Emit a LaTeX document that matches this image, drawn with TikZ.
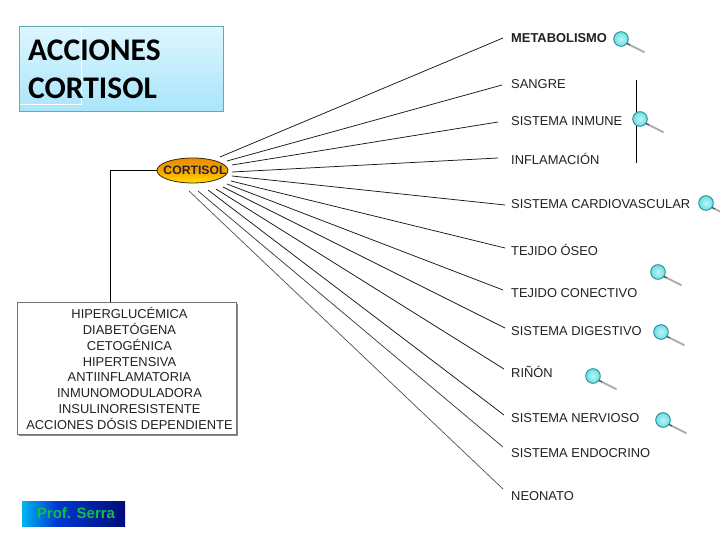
\documentclass[tikz,border=0pt]{standalone}
\usepackage{fontspec}
\setmainfont{Liberation Sans}
\newfontfamily\titlefont{Carlito}
\usetikzlibrary{shapes.geometric,shadings}
\definecolor{txt}{HTML}{222222}
\definecolor{titleedge}{HTML}{62A9BC}
\definecolor{titletop}{HTML}{DDF6FF}
\definecolor{titlebot}{HTML}{A9E5FA}
\definecolor{lensedge}{HTML}{1F8F96}
\definecolor{lensin}{HTML}{B8F6F6}
\definecolor{lensout}{HTML}{6FDDE2}
\definecolor{ovtop}{HTML}{E88E00}
\definecolor{ovmid}{HTML}{F6A200}
\definecolor{ovbot}{HTML}{FFE000}
\definecolor{profa}{HTML}{00B4F0}
\definecolor{profb}{HTML}{0038D0}
\definecolor{profc}{HTML}{000C78}
\definecolor{proftxt}{HTML}{10C040}
\pgfdeclarehorizontalshading{profshade}{100bp}{color(0bp)=(profa);color(25bp)=(profa);color(42bp)=(profb);color(75bp)=(profc);color(100bp)=(profc)}
\tikzset{
  x=1pt,y=-1pt,
  lab/.style={anchor=west,inner sep=0pt,text=txt,font=\fontsize{12.9}{14}\selectfont},
  ray/.style={draw=black!90,line width=0.75pt},
  lens/.pic={
    \draw[line width=2pt,line cap=round,draw=black!32] (5,4) -- (23,13);
    \draw[line width=1pt,draw=black!70] (5,4) -- (9,6);
    \draw[draw=lensedge,line width=0.9pt,inner color=lensin,outer color=lensout] (0,0) circle (7.3);
  }
}
\begin{document}
\begin{tikzpicture}
\useasboundingbox (0,0) rectangle (720,540);
\fill[white] (0,0) rectangle (720,540);
% title
\node[draw=titleedge,line width=0.8pt,top color=titletop,bottom color=titlebot,minimum width=204,minimum height=85,anchor=north west,inner sep=0pt] (title) at (19,26) {};
\draw[white,line width=0.5pt] (20,104) -- (81,104) -- (81,28);
\node[anchor=north west,align=left,inner sep=0pt,font=\titlefont\bfseries\fontsize{31.5}{37.8}\selectfont,text=black] (titletext) at (28,40) {ACCIONES\\CORTISOL};
% ellipse
\node[ellipse,draw=black!70!brown,line width=0.8pt,inner sep=0pt,minimum width=71,minimum height=25,top color=ovtop,bottom color=ovbot,middle color=ovmid] (cort) at (192.5,170.5) {};
\node[font=\bfseries\fontsize{12.2}{14}\selectfont,text=black!85,inner sep=0pt] (corttext) at (195,170) {CORTISOL};
% action box
\fill[black!45] (19,304) rectangle (237.5,435.5);
\node[draw=black!55,line width=0.8pt,fill=white,minimum width=219,minimum height=132,anchor=north west,inner sep=0pt] (box) at (17,302) {};
\node[align=center,inner sep=0pt,text=txt,font=\fontsize{12.9}{15.8}\selectfont] (boxtext) at (129.5,368.5) {HIPERGLUCÉMICA\\DIABETÓGENA\\CETOGÉNICA\\HIPERTENSIVA\\ANTIINFLAMATORIA\\INMUNOMODULADORA\\INSULINORESISTENTE\\ACCIONES DÓSIS DEPENDIENTE};
\draw[black,line width=0.8pt] (cort.west) -- (110,170.5) -- (110,302);
% labels
\node[lab,font=\bfseries\fontsize{12.9}{14}\selectfont] (l1) at (511,38.5) {METABOLISMO};
\node[lab] (l2) at (511,84) {SANGRE};
\node[lab] (l3) at (511,121) {SISTEMA INMUNE};
\node[lab] (l4) at (511,158.5) {INFLAMACIÓN};
\node[lab] (l5) at (511,204.5) {SISTEMA CARDIOVASCULAR};
\node[lab] (l6) at (511,250) {TEJIDO ÓSEO};
\node[lab] (l7) at (511,293.5) {TEJIDO CONECTIVO};
\node[lab] (l8) at (511,331.5) {SISTEMA DIGESTIVO};
\node[lab] (l9) at (511,372) {RIÑÓN};
\node[lab] (l10) at (511,418) {SISTEMA NERVIOSO};
\node[lab] (l11) at (511,453.5) {SISTEMA ENDOCRINO};
\node[lab] (l12) at (511,496) {NEONATO};
% rays
\foreach \n/\sx/\sy/\ex/\ey/\shade in {1/220/157/503/38/90,2/227/161/502/85/90,3/232/165/498/122/90,4/232/172/498/158/90,5/232/176/505/205/90,6/231/181/505/248/90,7/227/184/503/290/90,8/223/187/505/328/90,9/216/189/504/369/90,10/208/190/504/415/90,11/198/191/503/447/75,12/189/191/503/489/65}{
  \coordinate (s\n) at (\sx,\sy);
  \coordinate (e\n) at (\ex,\ey);
  \draw[ray,draw=black!\shade] (s\n) -- (e\n);
}
\coordinate (vtop) at (636,80);
\coordinate (vbot) at (636,163);
\draw[black,line width=0.8pt] (vtop) -- (vbot);
% magnifiers
\foreach \px/\py in {621/39,640/119,706/203,658/272,661/332,593/376,663/420}{
  \pic at (\px,\py) {lens};
}
% prof
\node[minimum width=103,minimum height=25,anchor=north west,inner sep=0pt,shading=profshade] (prof) at (22,501) {};
\node[font=\bfseries\fontsize{15}{17}\selectfont,text=proftxt,inner sep=0pt] (proft) at (76,513.5) {Prof. Serra};
\end{tikzpicture}
\end{document}
